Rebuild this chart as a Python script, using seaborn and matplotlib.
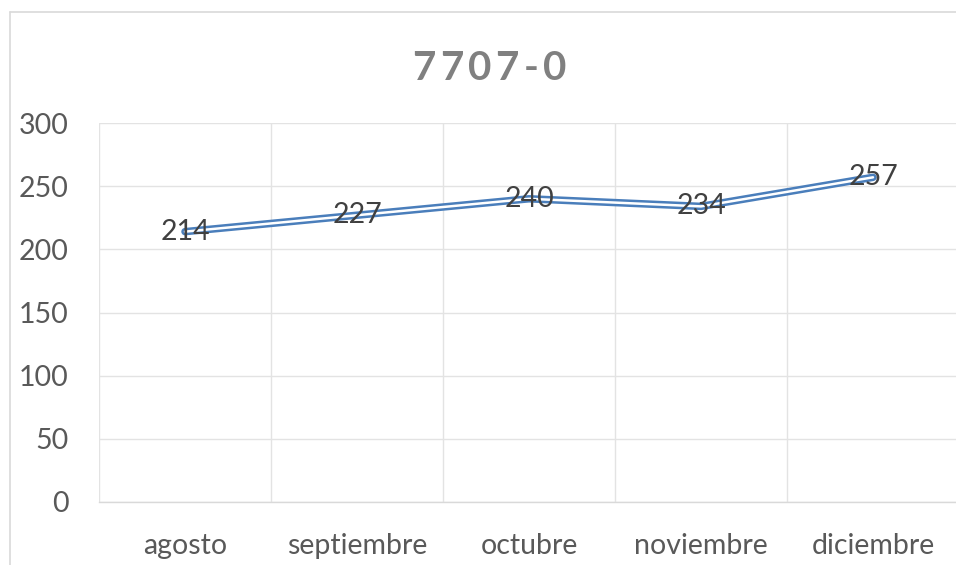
import matplotlib
matplotlib.use("Agg")
import matplotlib.pyplot as plt
import seaborn as sns
from matplotlib.lines import Line2D
from matplotlib.ticker import FixedLocator
from matplotlib.transforms import offset_copy

# Daten
meses = ["agosto", "septiembre", "octubre", "noviembre", "diciembre"]
valores = [214, 227, 240, 234, 257]
titulo = "7707-0"
y_ticks = [0, 50, 100, 150, 200, 250, 300]

sns.set_theme(style="white")
plt.rcParams["font.family"] = ["Lato", "DejaVu Sans"]

azul = "#4a7ebb"
gris_texto = "#595959"
gris_linea = "#e3e3e3"

fig = plt.figure(figsize=(9.56, 5.65), dpi=100)
ax = fig.add_axes([99 / 956, 1 - 502 / 565, 860 / 956, 379 / 565])

# Doppellinie: breite blaue Linie, schmale weiße darüber
sns.lineplot(x=meses, y=valores, ax=ax, color=azul, linewidth=5.4, zorder=3)
sns.lineplot(x=meses, y=valores, ax=ax, color="white", linewidth=1.8, zorder=4)

for i, v in enumerate(valores):
    ax.text(i, v, str(v), ha="center", va="center", fontsize=20.5,
            color="#404040", zorder=5)

ax.set_xlim(-0.5, len(meses) - 0.5)
ax.set_ylim(0, 300)
ax.set_yticks(y_ticks)
ax.xaxis.set_minor_locator(FixedLocator([i - 0.5 for i in range(len(meses) + 1)]))
ax.grid(True, axis="y", which="major", color=gris_linea, linewidth=1)
ax.grid(True, axis="x", which="minor", color=gris_linea, linewidth=1)
ax.grid(False, axis="x", which="major")

ax.tick_params(axis="both", which="both", length=0, labelsize=20.5,
               labelcolor=gris_texto)
ax.tick_params(axis="y", pad=22)
ax.tick_params(axis="x", pad=22)
ax.set_xlabel("")
ax.set_ylabel("")

for lado in ["top", "right", "left"]:
    ax.spines[lado].set_visible(False)
ax.spines["bottom"].set_color("#d9d9d9")
ax.spines["bottom"].set_linewidth(1)

# Titel mit Zeichenabstand (jedes Zeichen einzeln gesetzt)
renderer = fig.canvas.get_renderer()
estilo = dict(fontsize=29, fontweight="bold", color="#808080", va="center", ha="left")
espacio = 4.5
anchos = []
for c in titulo:
    t = fig.text(0, 0, c, **estilo)
    anchos.append(t.get_window_extent(renderer).width)
    t.remove()
total = sum(anchos) + espacio * (len(titulo) - 1)
x0 = 489 - total / 2
for c, w in zip(titulo, anchos):
    tr = offset_copy(fig.transFigure, fig=fig, x=x0, y=0, units="dots")
    fig.text(0, 1 - 68 / 565, c, transform=tr, **estilo)
    x0 += w + espacio

# Rahmen des Diagrammbereichs (links und oben sichtbar)
fig.add_artist(Line2D([10 / 956, 10 / 956], [0, 1 - 12 / 565],
                      color="#d9d9d9", linewidth=1.2, transform=fig.transFigure))
fig.add_artist(Line2D([10 / 956, 1], [1 - 12 / 565, 1 - 12 / 565],
                      color="#d9d9d9", linewidth=1.2, transform=fig.transFigure))

fig.savefig("out.png", dpi=100, facecolor="white")
